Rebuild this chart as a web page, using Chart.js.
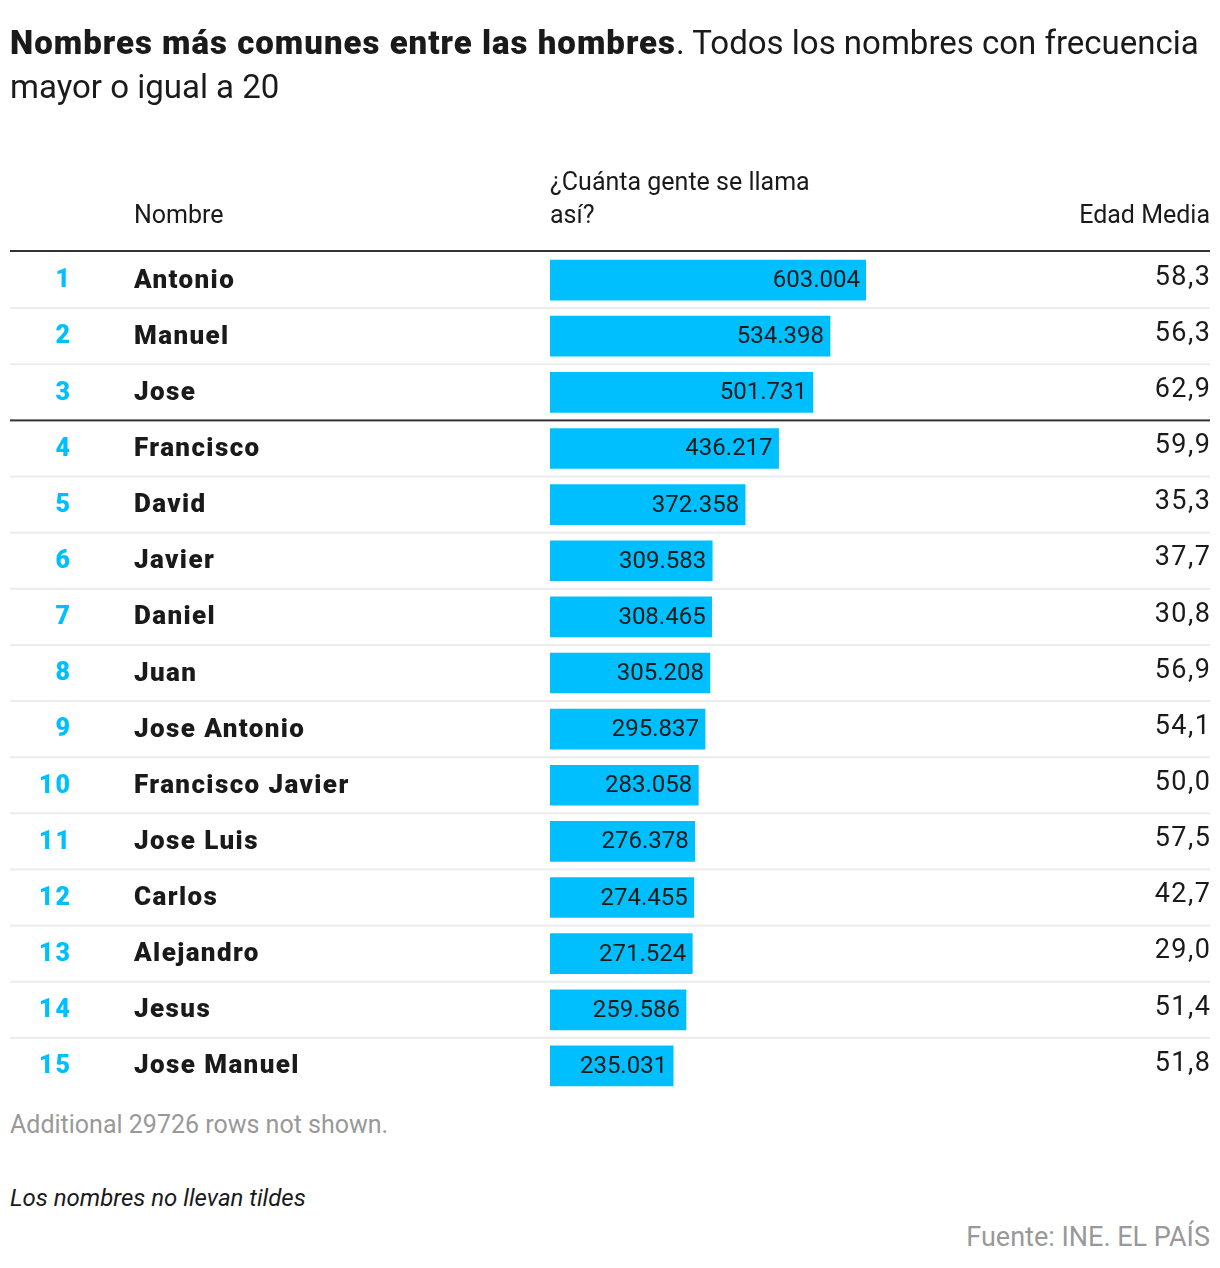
<!DOCTYPE html>
<html>
<head>
<meta charset="utf-8">
<script src="https://cdn.jsdelivr.net/npm/chart.js@4.4.0/dist/chart.umd.min.js"></script>
<style>
  body { margin: 0; background: #fff; font-family: Roboto, "Liberation Sans", sans-serif; color: #1a1a1a; }
  #page { position: relative; width: 1220px; height: 1268px; overflow: hidden; }
  .abs { position: absolute; white-space: nowrap; }
  #title { left: 10px; top: 21px; font-size: 33px; line-height: 44px; }
  #title b { font-weight: 900; letter-spacing: 1px; }
  .head { font-size: 25px; line-height: 33px; }
  #chartBox { position: absolute; left: 0; top: 0; width: 1220px; height: 1100px; }
</style>
</head>
<body>
<div id="page">
  <div id="chartBox"><canvas id="Tabla"></canvas></div>
  <div id="title" class="abs"><b>Nombres más comunes entre las hombres</b>. Todos los nombres con frecuencia<br>mayor o igual a 20</div>
  <div class="abs head" style="left:134px; top:198px;">Nombre</div>
  <div class="abs head" style="left:550px; top:165px;">¿Cuánta gente se llama<br>así?</div>
  <div class="abs head" style="right:10px; top:198px;">Edad Media</div>
  <div class="abs" style="left:10px; top:1110px; font-size:25px; color:#999;">Additional 29726 rows not shown.</div>
  <div class="abs" style="left:10px; top:1184px; font-size:24px; font-style:italic;">Los nombres no llevan tildes</div>
  <div class="abs" style="right:10px; top:1221px; font-size:27px; color:#999;">Fuente: INE. EL PAÍS</div>
</div>
<script>
const ranks = [1, 2, 3, 4, 5, 6, 7, 8, 9, 10, 11, 12, 13, 14, 15];
const names = ["Antonio", "Manuel", "Jose", "Francisco", "David", "Javier", "Daniel", "Juan",
               "Jose Antonio", "Francisco Javier", "Jose Luis", "Carlos", "Alejandro", "Jesus", "Jose Manuel"];
const counts = [603004, 534398, 501731, 436217, 372358, 309583, 308465, 305208,
                295837, 283058, 276378, 274455, 271524, 259586, 235031];
const ages = [58.3, 56.3, 62.9, 59.9, 35.3, 37.7, 30.8, 56.9, 54.1, 50.0, 57.5, 42.7, 29.0, 51.4, 51.8];

const CYAN = "#00BFFF";

function fmtCount(n)
{
    return n.toString().replace(/\B(?=(\d{3})+(?!\d))/g, ".");
}

// dibuja numeros, nombres, edades y lineas de separacion
const tablePlugin = {
    id: "tablePlugin",
    beforeDatasetsDraw(chart) {
        const ctx = chart.ctx;
        const y = chart.scales.y;
        const area = chart.chartArea;
        const step = y.getPixelForValue(1) - y.getPixelForValue(0);
        ctx.save();
        // linea de cabecera
        ctx.fillStyle = "#333";
        ctx.fillRect(10, area.top - 2, 1200, 2);
        for (let i = 0; i < names.length - 1; i++) {
            const ly = y.getPixelForValue(i) + step / 2;
            if (i == 2) {
                ctx.fillStyle = "#333";
            } else {
                ctx.fillStyle = "#ececec";
            }
            ctx.fillRect(10, ly - 1, 1200, 2);
        }
        ctx.restore();
    },
    afterDatasetsDraw(chart) {
        const ctx = chart.ctx;
        const y = chart.scales.y;
        const bars = chart.getDatasetMeta(0).data;
        ctx.save();
        ctx.textBaseline = "middle";
        for (let i = 0; i < names.length; i++) {
            const cy = y.getPixelForValue(i) + 1;
            ctx.fillStyle = CYAN;
            ctx.font = "900 25px Roboto";
            ctx.letterSpacing = "2px";
            ctx.textAlign = "right";
            ctx.fillText(ranks[i], 72, cy);

            ctx.fillStyle = "#1a1a1a";
            ctx.font = "900 26px Roboto";
            ctx.letterSpacing = "1.4px";
            ctx.textAlign = "left";
            ctx.fillText(names[i], 134, cy);

            ctx.font = "400 24px Roboto";
            ctx.letterSpacing = "0px";
            ctx.textAlign = "right";
            ctx.fillText(fmtCount(counts[i]), bars[i].x - 6, cy);

            ctx.font = "400 27px Roboto";
            ctx.letterSpacing = "1.5px";
            ctx.fillText(ages[i].toFixed(1).replace(".", ","), 1211.5, cy - 3);
        }
        ctx.restore();
    }
};

const canvas = document.getElementById("Tabla");
new Chart(canvas.getContext("2d"), {
    type: "bar",
    data: {
        labels: names,
        datasets: [{
            data: counts,
            backgroundColor: CYAN,
            barThickness: 40,
            borderWidth: 0
        }]
    },
    options: {
        indexAxis: "y",
        responsive: true,
        maintainAspectRatio: false,
        animation: false,
        layout: { padding: { top: 252, left: 550, right: 354, bottom: 6 } },
        plugins: { legend: { display: false }, tooltip: { enabled: false } },
        scales: {
            x: { display: false, min: 0, max: 603004 },
            y: { display: false, grid: { display: false } }
        }
    },
    plugins: [tablePlugin]
});
</script>
</body>
</html>
